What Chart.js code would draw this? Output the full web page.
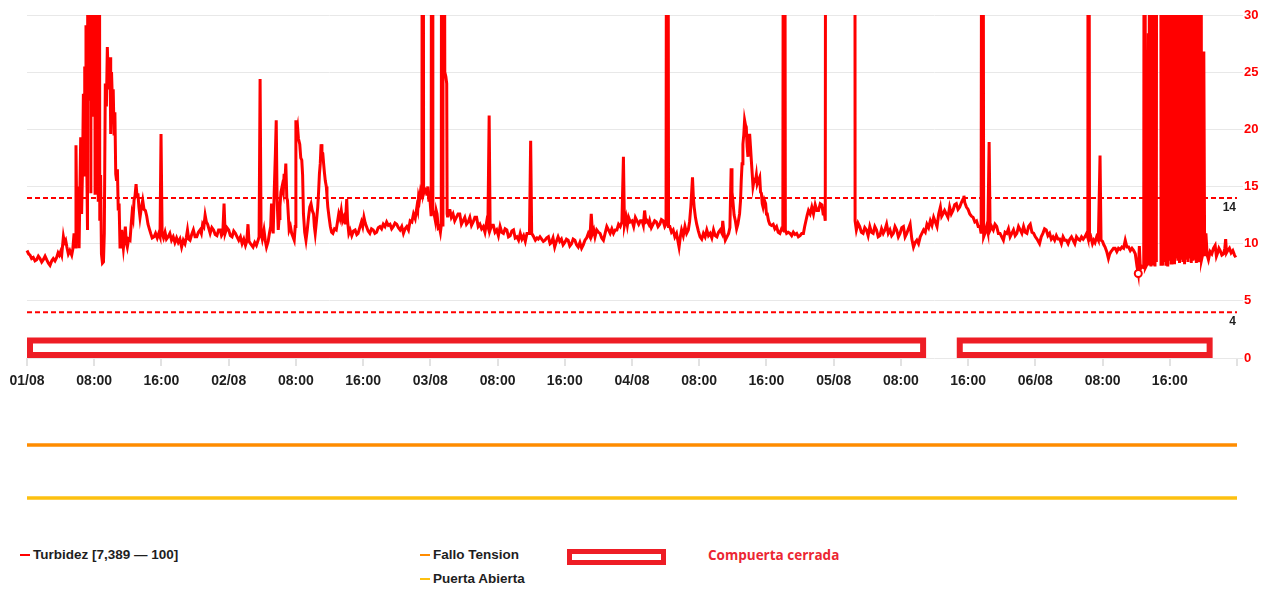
<!DOCTYPE html>
<html><head><meta charset="utf-8">
<script src="https://cdn.jsdelivr.net/npm/chart.js@4.4.1/dist/chart.umd.min.js"></script>
<style>
html,body{margin:0;padding:0;background:#fff}
body{width:1269px;height:590px;overflow:hidden;position:relative;font-family:'Liberation Sans',Arial,sans-serif}
canvas{position:absolute;left:0}
#main{top:0}
#c2{top:425px}
#c3{top:478px}
.txt{position:absolute;font-weight:bold;font-size:13.5px;line-height:16px;color:#1e1e1e;white-space:nowrap}
.dash{position:absolute;width:10px;height:2.5px}
#gateBox{position:absolute;left:567px;top:549px;width:99px;height:16px;box-sizing:border-box;border:5.5px solid #ee1d25;background:#fff}
#gateTxt{position:absolute;left:708px;top:546px;font-family:'Open Sans','Noto Sans',sans-serif;font-weight:700;font-size:13.5px;line-height:18px;color:#ec2632;white-space:nowrap}
</style></head>
<body>
<canvas id="main" width="1269" height="400"></canvas>
<canvas id="c2" width="1269" height="40"></canvas>
<canvas id="c3" width="1269" height="40"></canvas>
<div class="dash" style="left:20px;top:553.5px;background:#ff0000"></div>
<div class="txt" style="left:33px;top:546.5px">Turbidez [7,389 — 100]</div>
<div class="dash" style="left:420px;top:553.5px;background:#ff8c00"></div>
<div class="txt" style="left:433px;top:546.5px">Fallo Tension</div>
<div class="dash" style="left:420px;top:577.5px;background:#fdc010"></div>
<div class="txt" style="left:433px;top:570.5px">Puerta Abierta</div>
<div id="gateBox"></div>
<div id="gateTxt">Compuerta cerrada</div>
<script>
// ---- DATA ----
// hours since 01/08 00:00
const tickLabels = ["01/08","08:00","16:00","02/08","08:00","16:00","03/08","08:00","16:00","04/08","08:00","16:00","05/08","08:00","16:00","06/08","08:00","16:00"];
const thresholds = [14, 4];
const gateStart = [0, 110.65];
const gateEnd = [107.0, 141.1];
const signalHours = [0, 144];
const falloTension = [0, 0];
const puertaAbierta = [0, 0];
const turbidez = [
[0,9.4],[0.2,9.1],[0.36,9.0],[0.55,8.7],[0.75,8.8],[0.95,8.5],[1.15,8.6],[1.35,8.9],[1.55,8.7],[1.75,8.4],[1.94,8.6],[2.15,8.9],[2.34,8.6],[2.55,8.3],[2.74,8.1],[2.95,8.5],[3.13,8.7],[3.33,8.5],[3.53,8.8],[3.7,9.2],[3.85,9.0],[4.0,9.3],[4.13,9.0],[4.33,10.6],[4.45,10.1],[4.6,10.3],[4.75,9.7],[4.92,9.1],[5.1,9.4],[5.32,9.0],[5.45,9.5],[5.6,10.9],[5.72,9.7],[5.83,18.6],[5.95,10.3],[6.07,15.0],[6.2,9.6],
[6.39,19.3],[6.5,12.6],[6.62,17],[6.71,23.1],[6.8,16],[6.87,25.5],[6.95,20],[7.02,29.1],[7.1,17.9],[7.2,11.2],[7.3,100],[7.42,22.5],[7.5,100],[7.6,14.4],[7.68,100],[7.78,21.1],[7.86,100],[7.95,25.5],[8.02,100],[8.1,14.4],[8.18,100],[8.28,22.5],[8.36,100],[8.48,13.8],[8.56,100],[8.66,12],[8.76,16],[8.86,9.1],[8.98,8.3],[9.1,8.4],[9.2,10.9],[9.32,24.0],[9.45,22],[9.56,27.2],[9.65,24.9],[9.75,23.5],[9.88,26.3],[9.96,19.6],[10.06,25.0],[10.16,22.5],[10.26,23.5],[10.36,19.6],[10.46,21.5],[10.56,16.1],[10.66,15.5],[10.76,16.5],[10.86,12.9],[10.96,13.5],[11.07,9.7],[11.17,10.2],[11.27,11.2],[11.37,10.3],[11.47,9.6],[11.58,10.4],[11.7,11.5],[11.82,10.1],[11.94,9.7],[12.1,10.4],[12.26,10.3],[12.38,11.5],[12.5,12.6],[12.62,12.2],[12.74,13.8],[12.86,14.2],[12.98,15.2],[13.1,14.1],[13.2,14.4],[13.32,13.2],[13.45,12.3],[13.6,13.1],[13.77,13.8],[13.93,13.0],[14.09,12.9],[14.25,12.4],[14.4,11.7],[14.56,11.3],[14.72,10.9],[14.9,10.5],[15.12,10.6],[15.3,10.9],[15.5,10.5],[15.68,10.9],[15.83,10.6],[15.95,19.6],[16.08,10.9],[16.25,10.5],[16.43,11.0],[16.6,10.4],[16.8,10.6],[17.0,10.9],[17.2,10.3],[17.4,10.6],[17.6,10.1],[17.8,10.5],[18.0,10.1],[18.2,10.4],[18.4,9.7],[18.6,10.3],[18.8,10.0],[18.95,10.5],[19.1,11.2],[19.25,10.4],[19.4,10.3],[19.6,10.8],[19.8,11.2],[20.0,10.6],[20.2,10.6],[20.4,11.0],[20.6,11.2],[20.75,10.9],[20.9,11.7],[21.05,11.5],[21.2,12.5],[21.35,11.9],[21.5,11.7],[21.65,11.3],[21.8,10.9],[22.0,11.4],[22.2,11.2],[22.4,10.8],[22.6,10.7],[22.8,11.2],[23.0,11.2],[23.15,10.7],[23.3,10.9],[23.45,13.5],[23.58,10.9],[23.8,11.4],[24.0,11.2],[24.2,10.7],[24.4,10.6],[24.6,11.1],[24.8,10.9],[25.0,10.6],[25.2,10.3],[25.4,10.6],[25.6,10.0],[25.8,10.4],[26.0,9.85],[26.15,10.2],[26.3,11.7],[26.42,10.2],[26.6,10.0],[26.9,9.7],[27.1,10.1],[27.3,9.85],[27.5,10.3],[27.62,10.6],[27.74,24.4],[27.86,10.9],[28.0,10.4],[28.2,11.2],[28.35,10.3],[28.5,9.7],[28.7,10.2],[28.85,10.9],[29.0,11.5],[29.1,13.5],[29.2,11.8],[29.3,10.9],[29.42,14.5],[29.56,17.9],[29.66,20.8],[29.76,14],[29.9,11.2],[30.0,12.2],[30.1,13.2],[30.22,14.5],[30.36,15.0],[30.5,14.5],[30.6,16.1],[30.7,15.5],[30.8,17.0],[30.92,14.0],[31.0,13.8],[31.1,12.5],[31.2,11.2],[31.35,11.5],[31.5,10.9],[31.65,10.6],[31.8,10.3],[31.92,11.5],[32.0,20.8],[32.1,19.8],[32.2,20.2],[32.3,19.2],[32.46,18.7],[32.58,17.5],[32.7,17.3],[32.8,16.0],[32.9,12.6],[33.05,11.0],[33.2,10.3],[33.35,11.2],[33.5,12.3],[33.65,13.2],[33.8,13.5],[33.95,12.9],[34.1,12.6],[34.2,11.5],[34.3,10.9],[34.45,12.0],[34.6,13.2],[34.7,14.5],[34.8,16.1],[34.9,17.0],[35.0,18.7],[35.1,18.0],[35.2,17.9],[35.3,17.0],[35.4,16.2],[35.5,15.5],[35.62,15.0],[35.7,14.2],[35.8,13.2],[35.95,12.3],[36.1,11.5],[36.25,11.0],[36.4,10.9],[36.6,11.3],[36.8,11.2],[36.95,11.9],[37.1,12.6],[37.25,12.2],[37.4,12.9],[37.55,12.0],[37.7,12.3],[37.85,11.8],[37.95,12.6],[38.05,13.9],[38.15,12.0],[38.3,10.9],[38.45,11.2],[38.65,10.7],[38.85,11.1],[39.05,11.2],[39.25,10.8],[39.4,10.9],[39.6,11.4],[39.8,11.9],[39.95,11.5],[40.1,12.3],[40.25,11.8],[40.4,11.5],[40.6,11.1],[40.8,10.9],[41.0,11.3],[41.2,11.2],[41.4,10.9],[41.6,11.0],[41.8,11.4],[42.0,11.5],[42.2,11.3],[42.4,11.7],[42.6,11.5],[42.8,11.9],[43.0,11.6],[43.2,11.7],[43.4,11.3],[43.6,11.5],[43.8,11.8],[44.0,11.7],[44.2,11.4],[44.4,11.2],
[44.6,11.5],[44.8,10.9],[45.0,11.3],[45.2,11.5],[45.4,11.2],[45.6,12.0],[45.8,11.9],[46.0,12.6],[46.2,12.2],[46.4,13.2],[46.5,12.9],[46.6,14.1],[46.7,13.8],[46.8,14.4],[46.9,14.0],[47.0,15.5],[47.1,100],[47.2,14.4],[47.35,14.8],[47.5,14.7],[47.6,14.2],[47.7,15.0],[47.82,13.8],[47.96,13.8],[48.1,12.4],[48.2,100],[48.3,12.9],[48.45,12.6],[48.6,12.0],[48.7,12.9],[48.8,12.6],[48.95,11.4],[49.07,11.5],[49.2,11.0],[49.3,11.6],[49.4,100],[49.5,11.5],[49.55,100],[49.62,100],[49.72,25.0],[49.85,24.6],[49.95,24.0],[50.0,12.6],[50.06,12.3],[50.2,12.9],[50.34,12.9],[50.5,12.3],[50.7,12.6],[50.9,12.0],[51.1,12.3],[51.3,12.6],[51.5,12.6],[51.7,11.7],[51.9,12.0],[52.1,12.3],[52.3,11.7],[52.5,11.9],[52.7,12.3],[52.9,11.6],[53.1,11.9],[53.3,12.3],[53.5,12.3],[53.7,11.5],[53.9,11.7],[54.1,11.3],[54.3,11.5],[54.5,11.0],[54.7,11.9],[54.85,11.5],[55.0,21.2],[55.12,11.2],[55.3,11.6],[55.5,11.6],[55.7,11.0],[55.9,11.2],[56.1,10.7],[56.3,11.5],[56.5,11.0],[56.7,10.9],[56.9,11.3],[57.1,11.2],[57.3,10.6],[57.5,10.7],[57.7,11.1],[57.9,11.2],[58.1,10.5],[58.3,10.6],[58.5,10.3],[58.7,10.9],[58.9,10.4],[59.1,10.7],[59.3,10.2],[59.5,10.9],[59.8,10.9],[59.94,19.0],[60.06,10.9],[60.3,10.6],[60.5,10.3],[60.7,10.5],[60.85,10.4],[61.05,10.6],[61.25,10.4],[61.45,10.2],[61.65,10.3],[61.85,10.5],[62.05,10.6],[62.25,10.0],[62.4,10.1],[62.6,10.5],[62.8,9.7],[63.0,10.2],[63.2,10.6],[63.4,10.2],[63.6,10.4],[63.8,9.9],[64.0,10.1],[64.2,10.4],[64.4,10.3],[64.6,9.8],[64.8,10.0],[65.0,10.4],[65.2,10.3],[65.4,9.9],[65.6,9.7],[65.8,10.1],[66.0,9.6],[66.2,9.9],[66.4,10.3],[66.6,10.5],[66.8,10.9],[67.0,10.6],[67.15,12.6],[67.3,10.9],[67.45,11.2],[67.6,10.6],[67.8,11.2],[68.0,11.0],[68.2,10.9],[68.4,10.5],[68.6,10.3],[68.8,10.9],[69.0,11.5],[69.2,11.2],[69.4,10.9],[69.6,11.3],[69.8,10.9],[70.0,11.2],[70.2,11.2],[70.4,11.7],[70.6,11.5],[70.8,11.9],[70.98,17.6],[71.1,11.6],[71.3,12.3],[71.45,11.6],[71.6,12.3],[71.8,11.9],[72.0,12.0],[72.2,11.5],[72.4,12.3],[72.6,12.0],[72.8,11.7],[73.0,12.0],[73.2,12.0],[73.35,11.6],[73.5,12.9],[73.65,11.9],[73.8,12.0],[74.0,11.7],[74.1,12.0],[74.3,11.4],[74.5,11.7],[74.7,12.0],[74.9,11.9],[75.1,11.5],[75.3,11.7],[75.5,12.1],[75.7,12.0],[75.9,11.5],[76.05,11.7],[76.2,100],[76.35,11.5],[76.5,11.5],[76.7,11.0],[76.9,11.2],[77.1,10.6],[77.3,10.9],[77.45,10.3],[77.6,9.7],[77.75,10.6],[77.9,11.2],[78.1,10.7],[78.3,11.5],[78.5,10.9],[78.7,11.2],[78.85,11.9],[79.0,13.2],[79.1,14.5],[79.2,15.8],[79.3,14.1],[79.4,13.2],[79.55,12.3],[79.7,11.7],[79.9,11.1],[80.1,10.6],[80.3,10.4],[80.5,10.9],[80.7,10.6],[80.9,11.2],[81.1,10.7],[81.3,10.9],[81.5,10.5],[81.7,11.2],[81.9,10.7],[82.1,10.6],[82.3,11.0],[82.5,11.2],[82.7,10.9],[82.8,12.0],[82.95,10.9],[83.1,10.3],[83.3,10.6],[83.5,10.9],[83.65,11.4],[83.8,16.6],[83.9,14.5],[84.0,13.8],[84.15,12.5],[84.3,12.0],[84.45,11.3],[84.6,11.7],[84.8,12.6],[84.92,13.8],[85.0,15.5],[85.1,17.0],[85.2,18.7],[85.3,19.5],[85.4,20.8],[85.5,20.4],[85.6,20.2],[85.7,18.5],[85.8,17.6],[85.9,19.0],[86.0,19.6],[86.1,18.5],[86.2,17.3],[86.3,16.2],[86.4,15.0],[86.55,15.6],[86.7,15.5],[86.8,16.0],[86.9,15.2],[87.05,15.5],[87.2,15.8],[87.3,14.5],[87.4,14.4],[87.5,13.5],[87.6,13.2],[87.75,13.8],[87.9,13.5],[88.0,12.6],[88.1,12.6],[88.25,12.0],[88.4,11.7],[88.6,11.6],[88.8,11.7],[89.0,11.3],[89.2,11.5],[89.4,11.0],[89.6,10.9],[89.8,11.3],[89.95,11.2],[90.1,100],[90.25,11.2],[90.4,10.9],[90.6,11.0],[90.8,10.9],[91.0,10.7],[91.2,11.0],[91.4,10.8],[91.6,10.9],[91.8,10.6],[92.0,10.7],[92.2,10.9],[92.4,10.9],[92.55,11.5],[92.7,12.0],[92.85,12.5],[93.0,12.9],[93.2,12.6],[93.4,13.2],[93.6,12.6],[93.8,13.4],[94.0,12.9],[94.2,12.9],[94.4,13.5],[94.6,13.4],[94.75,12.6],[94.9,12.6],[95.0,12.0],[95.1,100],[98.5,100],[98.55,12.0],
[98.7,11.2],[98.9,11.8],[99.1,11.5],[99.3,11.0],[99.5,10.9],[99.7,11.4],[99.9,11.2],[100.1,10.7],[100.3,11.5],[100.5,11.0],[100.7,10.9],[100.9,11.5],[101.1,11.2],[101.3,10.6],[101.5,10.7],[101.7,11.3],[101.9,10.9],[102.1,11.2],[102.3,11.7],[102.5,10.9],[102.7,11.2],[102.9,10.7],[103.1,10.9],[103.3,11.5],[103.5,11.2],[103.7,10.6],[103.9,10.9],[104.1,11.4],[104.3,11.5],[104.5,10.6],[104.7,10.9],[104.9,11.3],[105.1,11.7],[105.3,10.4],[105.5,9.7],[105.7,10.1],[105.9,10.3],[106.1,10.0],[106.3,10.6],[106.5,10.9],[106.7,11.2],[106.9,11.0],[107.1,11.7],[107.3,11.4],[107.5,12.0],[107.7,11.6],[107.9,12.3],[108.1,11.9],[108.3,11.5],[108.5,12.6],[108.7,13.2],[108.85,12.4],[109.0,12.6],[109.2,12.9],[109.4,12.6],[109.6,12.3],[109.8,13.2],[110.0,12.6],[110.2,12.9],[110.4,13.4],[110.6,13.5],[110.8,13.0],[111.0,13.2],[111.2,13.6],[111.4,13.9],[111.5,14.2],[111.6,13.6],[111.8,13.2],[112.0,13.0],[112.2,12.6],[112.4,12.4],[112.6,12.3],[112.8,11.9],[113.0,12.0],[113.2,11.5],[113.4,11.5],[113.55,10.9],[113.7,100],[113.85,10.6],[114.0,10.9],[114.2,11.5],[114.35,11.0],[114.5,18.9],[114.62,11.2],[114.8,11.5],[115.0,11.2],[115.2,11.7],[115.4,11.5],[115.6,10.9],[115.8,10.9],[116.0,10.6],[116.2,10.3],[116.4,11.0],[116.6,10.9],[116.8,11.3],[117.0,10.6],[117.2,10.9],[117.4,11.2],[117.6,10.7],[117.8,10.9],[118.0,11.5],[118.2,11.2],[118.4,10.9],[118.6,11.5],[118.8,11.0],[119.0,10.9],[119.2,11.5],[119.4,11.7],[119.6,11.0],[119.8,10.9],[120.0,10.6],[120.2,10.4],[120.5,10.0],[120.7,10.6],[120.9,10.9],[121.1,11.3],[121.3,11.2],[121.5,10.7],[121.7,10.9],[121.9,10.4],[122.1,10.6],[122.3,10.3],[122.5,10.7],[122.7,10.4],[122.9,10.4],[123.1,10.0],[123.3,10.6],[123.5,10.3],[123.7,10.3],[123.9,10.0],[124.1,10.4],[124.3,10.6],[124.5,10.3],[124.7,10.0],[124.9,10.6],[125.1,10.4],[125.3,10.3],[125.5,10.6],[125.7,10.4],[125.9,10.6],[126.1,10.9],[126.25,10.5],[126.3,100],[126.45,10.4],[126.6,10.6],[126.8,10.0],[126.95,10.3],[127.1,10.1],[127.3,10.6],[127.5,10.3],[127.7,17.7],[127.82,10.3],[128.0,10.2],[128.15,9.9],[128.3,9.7],[128.5,9.3],[128.7,8.7],[128.85,9.1],[129.0,9.3],[129.1,9.4],[129.3,9.6],[129.5,9.6],[129.7,9.3],[129.9,9.6],[130.1,9.5],[130.3,9.7],[130.5,9.6],[130.7,10.3],[130.9,9.7],[131.1,9.7],[131.3,9.4],[131.5,9.6],[131.7,9.4],[131.9,9.1],[132.1,8.0],[132.25,7.389],
[132.38,9.8],[132.5,7.8],[132.7,8.0],[132.9,7.9],[133.0,100],[133.1,7.9],[133.3,8.2],[133.45,28.4],[133.52,8.1],[133.7,100],[133.76,8.0],[133.85,100],[133.93,8.3],[134.0,100],[134.08,8.1],[134.16,100],[134.24,8.0],[134.32,100],[134.4,8.4],[134.48,100],[134.9,100],[134.96,8.2],[135.06,100],[135.16,8.1],[135.26,100],[135.36,8.4],[135.46,100],[135.56,8.2],[135.66,100],[135.76,8.0],[135.86,100],[135.96,8.5],[136.06,100],[136.16,8.3],[136.26,100],[136.36,8.6],[136.46,100],[136.56,8.2],[136.66,100],[136.76,8.7],[136.86,100],[136.96,8.5],[137.06,100],[137.16,8.3],[137.26,100],[137.36,8.6],[137.46,100],[137.56,8.4],[137.66,100],[137.76,8.2],[137.86,100],[137.96,8.6],[138.06,100],[138.16,8.4],[138.26,100],[138.36,8.7],[138.46,100],[138.56,8.3],[138.66,100],[138.76,8.5],[138.86,100],[138.96,8.6],[139.06,100],[139.16,8.3],[139.26,100],[139.36,8.5],[139.46,100],[139.56,8.7],[139.66,100],[139.78,8.6],[139.9,9.0],[140.05,26.8],[140.15,8.9],
[140.3,10.9],[140.45,9.0],[140.6,8.6],[140.8,9.3],[141.0,9.1],[141.2,9.6],[141.4,9.85],[141.55,8.9],[141.7,9.2],[141.85,9.6],[142.0,9.4],[142.2,9.0],[142.4,9.1],[142.55,9.6],[142.65,10.4],[142.75,9.2],[142.9,9.4],[143.1,9.6],[143.3,9.2],[143.5,9.4],[143.7,9.0],[143.85,8.8]
];

// ---- CHARTS ----
Chart.defaults.animation = false;
Chart.defaults.font.family = "'Liberation Sans', Arial, sans-serif";
const RED = '#ff0000';
const GATE = '#ee1d25';
const GRID = '#e8e8e8';

const pts = turbidez.map(p => ({x: p[0], y: p[1]}));
let minIdx = 0;
pts.forEach((p, i) => { if (p.y < pts[minIdx].y) minIdx = i; });

const overlay = {
  id: 'overlay',
  afterDatasetsDraw(chart) {
    const {ctx, chartArea} = chart;
    const x = chart.scales.x, y = chart.scales.y;
    ctx.save();
    const yb = y.getPixelForValue(0);
    gateStart.forEach((s, i) => {
      const x0 = x.getPixelForValue(s), x1 = x.getPixelForValue(gateEnd[i]);
      ctx.fillStyle = GATE;
      ctx.fillRect(x0, yb - 20.5, x1 - x0, 20.5);
      ctx.fillStyle = '#fff';
      ctx.fillRect(x0 + 6, yb - 14.5, x1 - x0 - 12, 8.5);
    });
    ctx.fillStyle = '#1e1e1e';
    ctx.font = 'bold 12px "Liberation Sans", Arial, sans-serif';
    ctx.textAlign = 'right';
    ctx.textBaseline = 'middle';
    thresholds.forEach(t => ctx.fillText(String(t), chartArea.right - 1, y.getPixelForValue(t) + 9.5));
    ctx.restore();
  }
};

const thrSets = thresholds.map(t => ({
  data: [{x: signalHours[0], y: t}, {x: signalHours[1], y: t}],
  borderColor: RED, borderWidth: 2, borderDash: [5, 3], pointRadius: 0, clip: 0
}));

new Chart(document.getElementById('main'), {
  type: 'line',
  data: {
    datasets: [{
      label: 'Turbidez',
      data: pts,
      borderColor: RED,
      borderWidth: 3,
      tension: 0,
      borderJoinStyle: 'miter',
      pointRadius: c => c.dataIndex === minIdx ? 3.5 : 0,
      pointBackgroundColor: '#fff',
      pointBorderColor: RED,
      pointBorderWidth: 2,
      clip: {left: 3, top: 0, right: 3, bottom: 3}
    }, ...thrSets]
  },
  options: {
    responsive: false,
    events: [],
    layout: {padding: {left: 27, top: 15, right: 0, bottom: 0}},
    plugins: {legend: {display: false}, tooltip: {enabled: false}},
    scales: {
      x: {
        type: 'linear', min: 0, max: 144,
        border: {display: false},
        grid: {drawOnChartArea: false, drawTicks: true, tickLength: 8, color: '#e2e2e2', lineWidth: 2},
        ticks: {
          stepSize: 8, autoSkip: false, maxRotation: 0, padding: 7,
          color: '#1e1e1e', font: {size: 14, weight: 'bold'},
          callback: (v, i) => tickLabels[i] ?? ''
        },
        afterFit: s => { s.height = 42; }
      },
      y: {
        position: 'right', min: 0, max: 30,
        border: {display: false},
        grid: {color: GRID, lineWidth: 1, tickLength: 6},
        ticks: {stepSize: 5, padding: 1, color: RED, font: {size: 13, weight: 'bold'}},
        afterFit: s => { s.width = 32; }
      }
    }
  },
  plugins: [overlay]
});

function signalChart(id, values, color) {
  new Chart(document.getElementById(id), {
    type: 'line',
    data: {datasets: [{data: signalHours.map((h, i) => ({x: h, y: values[i]})), borderColor: color, borderWidth: 3.5, pointRadius: 0}]},
    options: {
      responsive: false, events: [],
      layout: {padding: {left: 27, right: 32, top: 0, bottom: 0}},
      plugins: {legend: {display: false}, tooltip: {enabled: false}},
      scales: {
        x: {type: 'linear', min: 0, max: 144, display: false},
        y: {min: -1, max: 1, display: false}
      }
    }
  });
}
signalChart('c2', falloTension, '#ff8c00');
signalChart('c3', puertaAbierta, '#fdc010');
</script>
</body></html>
